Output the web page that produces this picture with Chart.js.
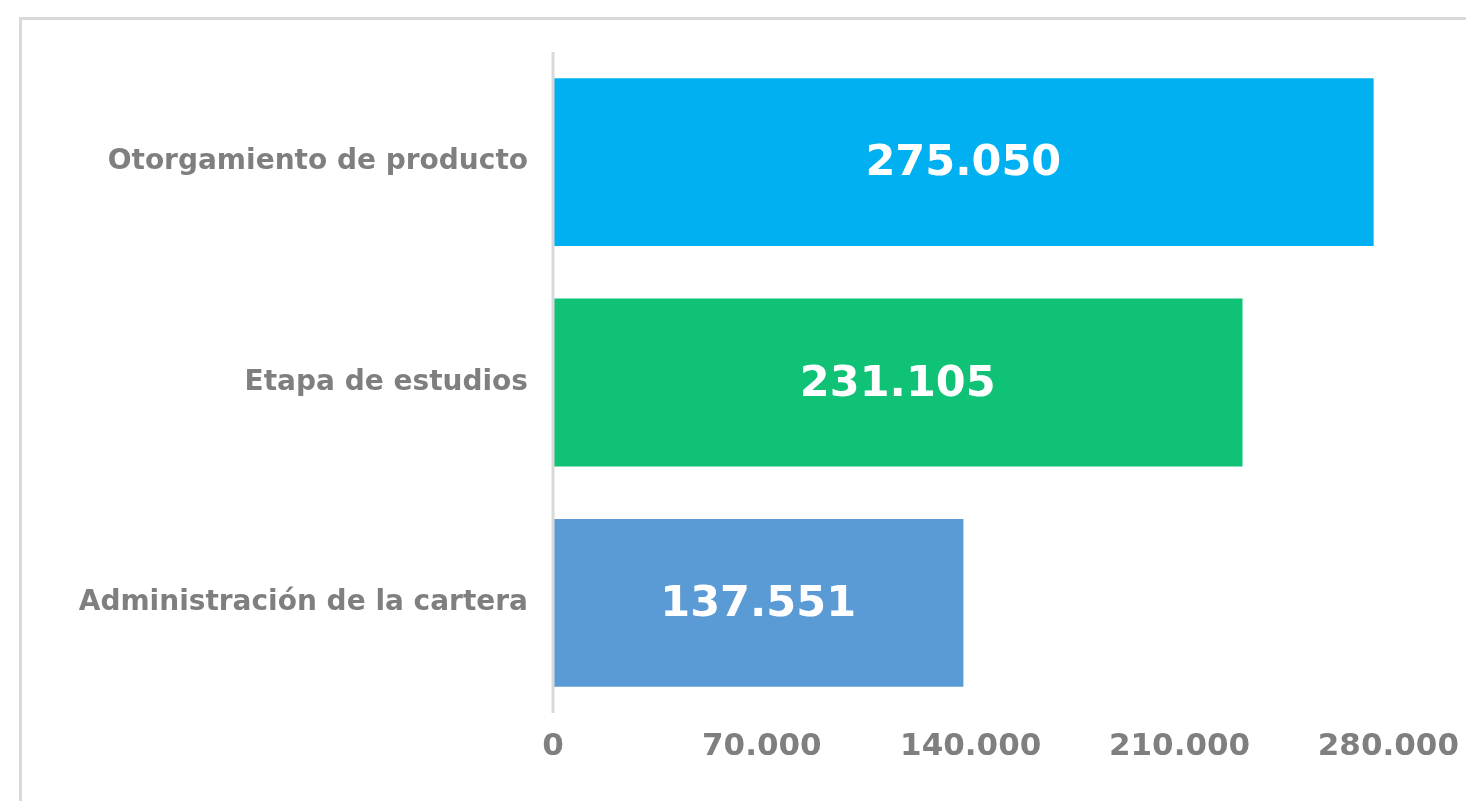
<!DOCTYPE html>
<html>
<head>
<meta charset="utf-8">
<script src="https://cdn.jsdelivr.net/npm/chart.js@4"></script>
<style>
    html, body { margin: 0; padding: 0; background: #fff; overflow: hidden; }
    #wrap { position: relative; width: 1466px; height: 801px; }
    #frame {
        position: absolute; left: 19px; top: 17px; right: -10px; bottom: -10px;
        border-left: 3px solid #d9d9d9; border-top: 3px solid #d9d9d9;
    }
    canvas { position: absolute; left: 0; top: 0; }
</style>
</head>
<body>
<div id="wrap">
    <div id="frame"></div>
    <canvas id="chart"></canvas>
</div>
<script>
    const etapas = ["Otorgamiento de producto", "Etapa de estudios", "Administración de la cartera"]
    const valores = [275050, 231105, 137551]
    const colores = ['#00B0F0', '#0FC276', '#5B9BD5']
    const ticksX = [0, 70000, 140000, 210000, 280000]

    // 275050 -> "275.050"
    function puntos(n) {
        return String(n).replace(/\B(?=(\d{3})+(?!\d))/g, '.')
    }

    const etiquetas = {
        id: 'etiquetas',
        afterDatasetsDraw(chart) {
            const ctx = chart.ctx
            const meta = chart.getDatasetMeta(0)
            ctx.save()
            ctx.fillStyle = '#ffffff'
            ctx.font = 'bold 43px "DejaVu Sans"'
            ctx.textAlign = 'center'
            ctx.textBaseline = 'middle'
            meta.data.forEach((bar, i) => {
                const x = (bar.base + bar.x) / 2
                ctx.fillText(puntos(valores[i]), x, bar.y + 2)
            })
            ctx.restore()
        }
    }

    // linea del eje por encima de las barras
    const ejeY = {
        id: 'ejeY',
        afterDatasetsDraw(chart) {
            const { ctx, chartArea } = chart
            const x0 = chart.scales.x.getPixelForValue(0)
            ctx.save()
            ctx.strokeStyle = '#d9d9d9'
            ctx.lineWidth = 3
            ctx.beginPath()
            ctx.moveTo(x0, chartArea.top)
            ctx.lineTo(x0, chartArea.bottom)
            ctx.stroke()
            ctx.restore()
        }
    }

    const ctx1 = document.getElementById('chart').getContext('2d')
    new Chart(ctx1, {
        type: 'bar',
        data: {
            labels: etapas,
            datasets: [{
                data: valores,
                backgroundColor: colores,
                barPercentage: 0.762,
                categoryPercentage: 1
            }]
        },
        options: {
            indexAxis: 'y',
            responsive: true,
            maintainAspectRatio: false,
            animation: false,
            layout: { padding: { top: 52, right: 76, bottom: 0, left: 0 } },
            plugins: {
                legend: { display: false },
                tooltip: { enabled: false }
            },
            scales: {
                x: {
                    min: 0,
                    max: 280000,
                    afterBuildTicks: s => { s.ticks = ticksX.map(v => ({ value: v })) },
                    afterFit: s => { s.height = 88 },
                    grid: { display: false },
                    border: { display: false },
                    ticks: {
                        padding: 7,
                        color: '#7f7f7f',
                        font: { family: 'DejaVu Sans', weight: 'bold', size: 31 },
                        callback: v => puntos(v)
                    }
                },
                y: {
                    afterFit: s => { s.width = 553 },
                    grid: { display: false },
                    border: { display: false },
                    ticks: {
                        padding: 17,
                        color: '#7f7f7f',
                        font: { family: 'DejaVu Sans', weight: 'bold', size: 28 }
                    }
                }
            }
        },
        plugins: [etiquetas, ejeY]
    })
</script>
</body>
</html>
